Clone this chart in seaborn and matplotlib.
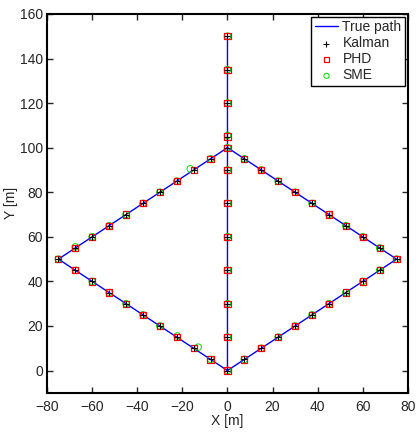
import matplotlib
matplotlib.use("Agg")
import matplotlib.pyplot as plt
import seaborn as sns

# true path corners
path_x = [0, -75, 0, 75, 0, 0]
path_y = [0, 50, 100, 50, 0, 150]

# sampled positions along the track (diamond then vertical leg)
est_x = [0, -7.5, -15, -22.5, -30, -37.5, -45, -52.5, -60, -67.5, -75,
         -67.5, -60, -52.5, -45, -37.5, -30, -22.5, -15, -7.5, 0,
         7.5, 15, 22.5, 30, 37.5, 45, 52.5, 60, 67.5, 75,
         67.5, 60, 52.5, 45, 37.5, 30, 22.5, 15, 7.5,
         0, 0, 0, 0, 0, 0, 0, 0, 0, 0]
est_y = [0, 5, 10, 15, 20, 25, 30, 35, 40, 45, 50,
         55, 60, 65, 70, 75, 80, 85, 90, 95, 100,
         95, 90, 85, 80, 75, 70, 65, 60, 55, 50,
         45, 40, 35, 30, 25, 20, 15, 10, 5,
         15, 30, 45, 60, 75, 90, 105, 120, 135, 150]

# SME estimates: same except for a couple of off-track points
sme_x = [0, -7.5, -13, -22.3, -30, -37.5, -45, -52.5, -60, -67.3, -75,
         -67.5, -60, -52.5, -45, -37.5, -30, -22.5, -16.5, -7.5, 0,
         7.5, 15, 22.5, 30, 37.5, 45, 52.5, 60, 67.5, 75,
         67.5, 60, 52.5, 45, 37.5, 30, 22.5, 15, 7.5,
         0, 0, 0, 0, 0, 0, 0, 0, 0, 0]
sme_y = [0, 5, 10.5, 15.5, 20, 25, 30, 35, 40, 45, 50,
         55.5, 60, 65, 70, 75, 80, 85, 90.5, 95, 100,
         95, 90, 85, 80, 75, 70, 65, 60, 55, 50,
         45, 40, 35, 30, 25, 20, 15, 10, 5,
         15, 30, 45, 60, 75, 90, 105.5, 120, 135, 150]

sns.set_style("white")
plt.rcParams["font.family"] = ["Liberation Sans Narrow", "Liberation Sans", "DejaVu Sans"]

fig = plt.figure(figsize=(4.17, 4.36), dpi=100)
ax = fig.add_axes([0.113, 0.099, 0.865, 0.869])

sns.lineplot(x=path_x, y=path_y, sort=False, estimator=None, color="blue",
             linewidth=1.0, label="True path", ax=ax, zorder=1)
sns.scatterplot(x=sme_x, y=sme_y, marker="o", s=22, facecolor="none",
                edgecolor="#00e000", linewidth=0.7, label="SME", ax=ax, zorder=2)
sns.scatterplot(x=est_x, y=est_y, marker="s", s=20, facecolor="none",
                edgecolor="red", linewidth=0.9, label="PHD", ax=ax, zorder=3)
sns.scatterplot(x=est_x, y=est_y, marker="+", s=22, color="black",
                linewidth=0.8, label="Kalman", ax=ax, zorder=4)

ax.set_xlim(-80, 80)
ax.set_ylim(-10, 160)
ax.set_xticks(range(-80, 81, 20))
ax.set_yticks(range(0, 161, 20))
ax.set_xlabel("X [m]", fontsize=10, labelpad=0)
ax.set_ylabel("Y [m]", fontsize=10, labelpad=1)
ax.tick_params(direction="in", length=4, width=1, labelsize=10,
               top=True, right=True, bottom=True, left=True)
ax.tick_params(axis="x", pad=5)
ax.tick_params(axis="y", pad=3)
for sp in ax.spines.values():
    sp.set_color("black")
    sp.set_linewidth(1.5)

handles, labels = ax.get_legend_handles_labels()
order = ["True path", "Kalman", "PHD", "SME"]
hmap = dict(zip(labels, handles))
leg = ax.legend([hmap[k] for k in order], order, loc="upper right",
                fontsize=10, frameon=True, fancybox=False, framealpha=1,
                edgecolor="black", borderpad=0.25, labelspacing=0.15,
                handlelength=1.7, handletextpad=0.3, borderaxespad=0.2,
                markerscale=0.8)
leg.get_frame().set_linewidth(1.0)

fig.savefig("out.png", dpi=100)
